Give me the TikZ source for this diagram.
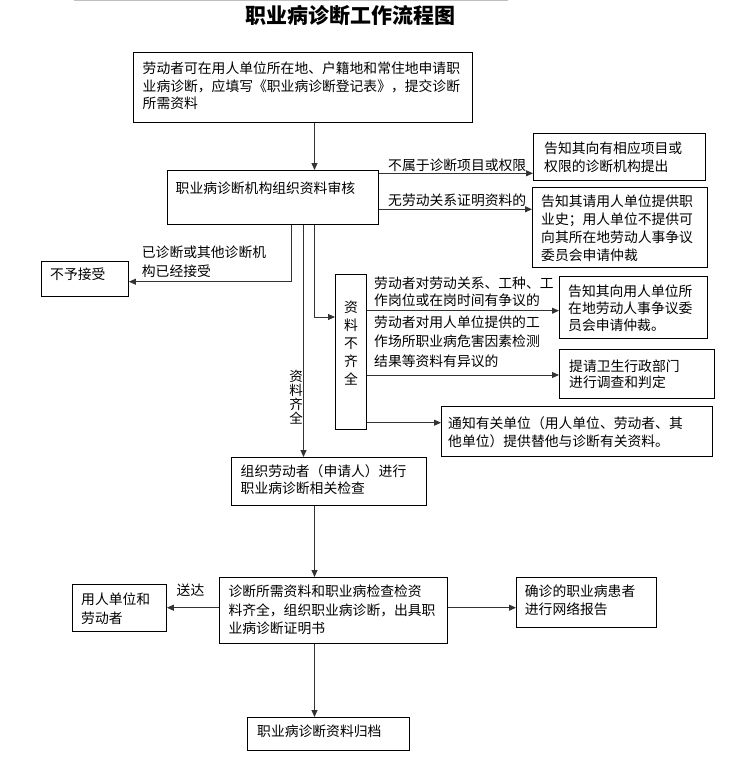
\documentclass[tikz,border=0pt]{standalone}
\usepackage{fontspec}
\setmainfont{Noto Sans CJK SC}
\usetikzlibrary{arrows.meta}
\begin{document}
\begin{tikzpicture}[x=1pt,y=-1pt,
  box/.style={draw=black, line width=0.9pt, inner sep=0pt, anchor=north west},
  txt/.style={anchor=west, inner sep=0pt, align=left, font=\fontsize{13.8}{17.6}\selectfont},
  vtxt/.style={inner sep=0pt, align=center, font=\fontsize{13.8}{18}\selectfont},
  arr/.style={draw=black!80, line width=0.9pt, -{Triangle[length=7pt,width=6pt]}},
  ttl/.style={inner sep=0pt, font=\fontsize{21}{24}\selectfont\bfseries}]
\useasboundingbox (0,0) rectangle (735,761);
\fill[white] (0,0) rectangle (735,761);
% top rule
\coordinate (tl) at (74,0.6);
\coordinate (tr) at (508,0.6);
\draw[black!25, line width=1.2pt] (tl) -- (tr);
\node[ttl] (title) at (350,16) {职业病诊断工作流程图};

% boxes
\node[box, minimum width=339pt, minimum height=70pt] (b1) at (133,52) {};
\node[box, minimum width=211pt, minimum height=54pt] (b2) at (167,170) {};
\node[box, minimum width=172pt, minimum height=47pt] (b3) at (533,133) {};
\node[box, minimum width=175pt, minimum height=80pt] (b4) at (532,187) {};
\node[box, minimum width=87pt, minimum height=35pt] (bno) at (41,261) {};
\node[box, minimum width=31pt, minimum height=155pt] (nbq) at (335,274) {};
\node[box, minimum width=148pt, minimum height=62pt] (b5) at (559,276) {};
\node[box, minimum width=155pt, minimum height=49pt] (b6) at (559,349) {};
\node[box, minimum width=271pt, minimum height=50pt] (b7) at (441,406) {};
\node[box, minimum width=195pt, minimum height=48pt] (b8) at (231,457) {};
\node[box, minimum width=228pt, minimum height=66pt] (b9) at (219,577) {};
\node[box, minimum width=94pt, minimum height=47pt] (b10) at (72,584) {};
\node[box, minimum width=140pt, minimum height=50pt] (b11) at (516,577) {};
\node[box, minimum width=162pt, minimum height=33pt] (b12) at (247,717) {};

% box texts
\node[txt] (t1) at (142.5,86) {劳动者可在用人单位所在地、户籍地和常住地申请职\\业病诊断，应填写《职业病诊断登记表》，提交诊断\\所需资料};
\node[txt] (t2) at (175.5,188.3) {职业病诊断机构组织资料审核};
\node[txt] (t3) at (544,157) {告知其向有相应项目或\\权限的诊断机构提出};
\node[txt, font=\fontsize{13.8}{17.8}\selectfont] (t4) at (541,228.3) {告知其请用人单位提供职\\业史；用人单位不提供可\\向其所在地劳动人事争议\\委员会申请仲裁};
\node[txt] (tno) at (50,274) {不予接受};
\node[vtxt] (tnbq) at (351,343) {资\\料\\不\\齐\\全};
\node[txt, font=\fontsize{13.8}{17}\selectfont] (t5) at (568,308.6) {告知其向用人单位所\\在地劳动人事争议委\\员会申请仲裁。};
\node[txt, font=\fontsize{13.8}{16}\selectfont] (t6) at (569,374.7) {提请卫生行政部门\\进行调查和判定};
\node[txt, font=\fontsize{13.8}{18.4}\selectfont] (t7) at (448,432.5) {通知有关单位（用人单位、劳动者、其\\他单位）提供替他与诊断有关资料。};
\node[txt] (t8) at (240.5,479.5) {组织劳动者（申请人）进行\\职业病诊断相关检查};
\node[txt, font=\fontsize{13.8}{18.3}\selectfont] (t9) at (228.3,610) {诊断所需资料和职业病检查检资\\料齐全，组织职业病诊断，出具职\\业病诊断证明书};
\node[txt, font=\fontsize{13.8}{18.4}\selectfont] (t10) at (81,608.5) {用人单位和\\劳动者};
\node[txt] (t11) at (524.7,600.5) {确诊的职业病患者\\进行网络报告};
\node[txt] (t12) at (257,731) {职业病诊断资料归档};

% connector labels
\node[txt] (l1) at (388,165) {不属于诊断项目或权限};
\node[txt] (l2) at (388,200) {无劳动关系证明资料的};
\node[txt, font=\fontsize{13.8}{19}\selectfont] (l3) at (141.7,262.2) {已诊断或其他诊断机\\构已经接受};
\node[vtxt, font=\fontsize{13.5}{14}\selectfont] (l4) at (296,397) {资\\料\\齐\\全};
\node[txt, font=\fontsize{13.8}{16.7}\selectfont] (l5) at (374,291.7) {劳动者对劳动关系、工种、工\\作岗位或在岗时间有争议的};
\node[txt, font=\fontsize{13.8}{19.6}\selectfont] (l6) at (374,341.5) {劳动者对用人单位提供的工\\作场所职业病危害因素检测\\结果等资料有异议的};
\node[txt] (l7) at (176.5,590.7) {送达};

% helper coordinates
\coordinate (xm) at (314.5,0);
\coordinate (xa) at (291.7,0);
\coordinate (xb) at (303.5,0);
\coordinate (xc) at (314.7,0);
\coordinate (ya) at (0,173.3);
\coordinate (yb) at (0,209.3);
\coordinate (yc) at (0,281.7);
\coordinate (yd) at (0,317);
\coordinate (ye) at (0,310.7);
\coordinate (yf) at (0,375);
\coordinate (yg) at (0,422.7);
\coordinate (yh) at (0,607.7);

% connectors
\draw[arr] (xm |- b1.south) -- (xm |- b2.north);
\draw[arr] (b2.east |- ya) -- (b3.west |- ya);
\draw[arr] (b2.east |- yb) -- (b4.west |- yb);
\draw[arr] (xa |- b2.south) |- (bno.east |- yc);
\draw[arr] (xb |- b2.south) -- (xb |- b8.north);
\draw[arr] (xc |- b2.south) |- (nbq.west |- yd);
\draw[arr] (nbq.east |- ye) -- (b5.west |- ye);
\draw[arr] (nbq.east |- yf) -- (b6.west |- yf);
\draw[arr] (nbq.east |- yg) -- (b7.west |- yg);
\draw[arr] (xm |- b8.south) -- (xm |- b9.north);
\draw[arr] (b9.west |- yh) -- (b10.east |- yh);
\draw[arr] (b9.east |- yh) -- (b11.west |- yh);
\draw[arr] (xm |- b9.south) -- (xm |- b12.north);
\end{tikzpicture}
\end{document}
